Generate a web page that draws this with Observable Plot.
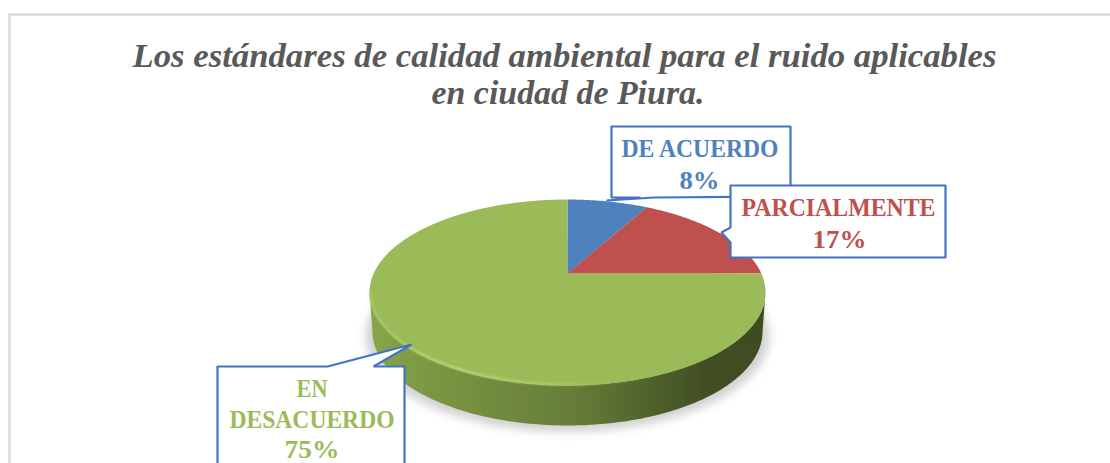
<!DOCTYPE html>
<html><head><meta charset="utf-8">
<script src="https://cdn.jsdelivr.net/npm/d3@7"></script>
<script src="https://cdn.jsdelivr.net/npm/@observablehq/plot@0.6"></script>
<style>
html,body{margin:0;padding:0;background:#fff;overflow:hidden}
</style></head><body>
<div id="chart"></div>
<script>
const categories = ["DE ACUERDO", "PARCIALMENTE", "EN DESACUERDO"];
const values = [8, 17, 75];
const sliceColors = ["#4f81bd", "#c0504d", "#9bbb59"];
const titleLines = ["Los estándares de calidad ambiental para el ruido aplicables", "en ciudad de Piura."];

// pixel box of the top face, mapped by the plot's scales onto the unit disc
const faceX = [369, 765], faceY = [199, 385];
const tilt = 0.204, depth = 0.42;
const ux = d3.scaleLinear().domain(faceX).range([-1, 1]);
const uy = d3.scaleLinear().domain(faceY).range([1, -1]);

// perspective of the disc: the centre of the pie sits above the centre of the ellipse
function persp(r, a) {
  const u = r * Math.sin(a), v = r * Math.cos(a), w = 1 + tilt * v;
  return {x: u * Math.sqrt(1 - tilt * tilt) / w, y: (v + tilt) / w};
}
const arcs = d3.pie().sort(null)(values);
const slices = arcs.flatMap((s, i) => {
  const n = Math.ceil((s.endAngle - s.startAngle) * 60);
  const pts = [{...persp(0, 0), k: i}];
  for (let j = 0; j <= n; j++) pts.push({...persp(1, s.startAngle + (s.endAngle - s.startAngle) * j / n), k: i});
  return pts;
});
// side wall: front half of the rim, swept downwards to a slightly narrower base
const ang = d3.range(0, 181).map(d => d * Math.PI / 180);
const wall = [
  ...ang.map(t => ({x: Math.cos(t), y: -Math.sin(t)})),
  ...ang.slice().reverse().map(t => ({x: 0.985 * Math.cos(t), y: -Math.sin(t) * 1.01 - depth}))
];
const shadow = d3.range(0, 361, 3).map(d => ({x: 1.02 * Math.cos(d * Math.PI / 180), y: 1.03 * Math.sin(d * Math.PI / 180) - depth - 0.05}));
const edge = ang.map(t => ({x: Math.cos(t) * 0.993, y: -Math.sin(t) * 0.988}));

const px = (x, y) => ({x: ux(x), y: uy(y)});
const boxes = [
  {id: 0, pts: [[611,126],[790,126],[790,196],[654,197],[606,200],[640,197],[611,197],[611,126]]},
  {id: 1, pts: [[730,185],[945,185],[945,257],[730,257],[730,242],[721,232],[730,227],[730,185]]},
  {id: 2, pts: [[217,366],[327,366],[411,344],[373,366],[404,366],[404,480],[217,480],[217,366]]}
].flatMap(b => b.pts.map(p => ({...px(p[0], p[1]), id: b.id})));
const labels = [
  {...px(699.5, 148), t: "DE ACUERDO", c: 0, w: 157}, {...px(699, 180), t: "8%", c: 0, w: 40},
  {...px(838, 207), t: "PARCIALMENTE", c: 1, w: 194}, {...px(839, 239), t: "17%", c: 1, w: 54},
  {...px(311.5, 388), t: "EN", c: 2, w: 31}, {...px(311.5, 419.5), t: "DESACUERDO", c: 2, w: 165}, {...px(311.5, 449), t: "75%", c: 2, w: 55}
];
const titleX = [564, 567.5], titleY = [55, 92], titleW = [864, 273];
const titles = titleLines.map((t, i) => ({...px(titleX[i], titleY[i]), t, w: titleW[i]}));
const frame = [[9,463],[9,14],[1110,14]].map(p => px(p[0], p[1]));

const defs = () => {
  const s = d3.create("svg:defs");
  const g = s.append("linearGradient").attr("id", "pared").attr("x1", 0).attr("x2", 1).attr("y1", 0).attr("y2", 0);
  [[0,"#88a64c"],[0.1,"#7f9b45"],[0.3,"#728c3f"],[0.5,"#677f39"],[0.65,"#566b2f"],[0.85,"#414e23"],[1,"#3f4c22"]].forEach(([o,c]) => g.append("stop").attr("offset", o).attr("stop-color", c));
  const h = s.append("linearGradient").attr("id", "brilloG").attr("x1", 0).attr("x2", 1).attr("y1", 0).attr("y2", 0);
  [[0,"#a9c765",1],[0.2,"#c2dc7c",1],[0.45,"#b5d06e",0.9],[0.65,"#9bbb59",0.4],[1,"#9bbb59",0]].forEach(([o,c,a]) => h.append("stop").attr("offset", o).attr("stop-color", c).attr("stop-opacity", a));
  return s.node();
};

const chart = Plot.plot({
  width: 1110, height: 463, margin: 0,
  style: {background: "#fff"},
  x: {domain: [-1, 1], range: faceX, axis: null},
  y: {domain: [1, -1], range: faceY, axis: null},
  color: {type: "ordinal", domain: [0, 1, 2], range: sliceColors},
  marks: [
    defs,
    Plot.line(frame, {x: "x", y: "y", stroke: "#d9d9d9", strokeWidth: 2.5}),
    Plot.text(titles, {x: "x", y: "y", text: "t", fontFamily: "Liberation Serif", fontWeight: "bold", fontStyle: "italic", fontSize: 34.6, fill: "#595959"}),
    Plot.line(shadow, {x: "x", y: "y", fill: "#d2d2d2", stroke: "none"}),
    Plot.line(wall, {x: "x", y: "y", fill: "url(#pared)", stroke: "none"}),
    Plot.line(slices, {x: "x", y: "y", z: "k", fill: "k", stroke: "none"}),
    Plot.line(edge, {x: "x", y: "y", stroke: "url(#brilloG)", strokeWidth: 2}),
    Plot.line(boxes, {x: "x", y: "y", z: "id", fill: "#fff", stroke: "#4472c4", strokeWidth: 2.2, strokeLinejoin: "miter"}),
    Plot.text(labels, {x: "x", y: "y", text: "t", fill: d => sliceColors[d.c], fontFamily: "Liberation Serif", fontWeight: "bold", fontSize: 26})
  ]
});
document.getElementById("chart").append(chart);
const lines = chart.querySelectorAll('g[aria-label="line"]');
if (lines[1]) lines[1].style.filter = "blur(4px)";
if (lines[4]) lines[4].style.filter = "blur(1px)";
// fit the glyphs to the measured widths of the texts
const widths = new Map([...labels, ...titles].map(d => [d.t, d.w]));
chart.querySelectorAll('g[aria-label="text"] text').forEach(el => {
  const w = widths.get(el.textContent);
  if (w) { el.setAttribute("textLength", w); el.setAttribute("lengthAdjust", "spacingAndGlyphs"); }
});
</script></body></html>
